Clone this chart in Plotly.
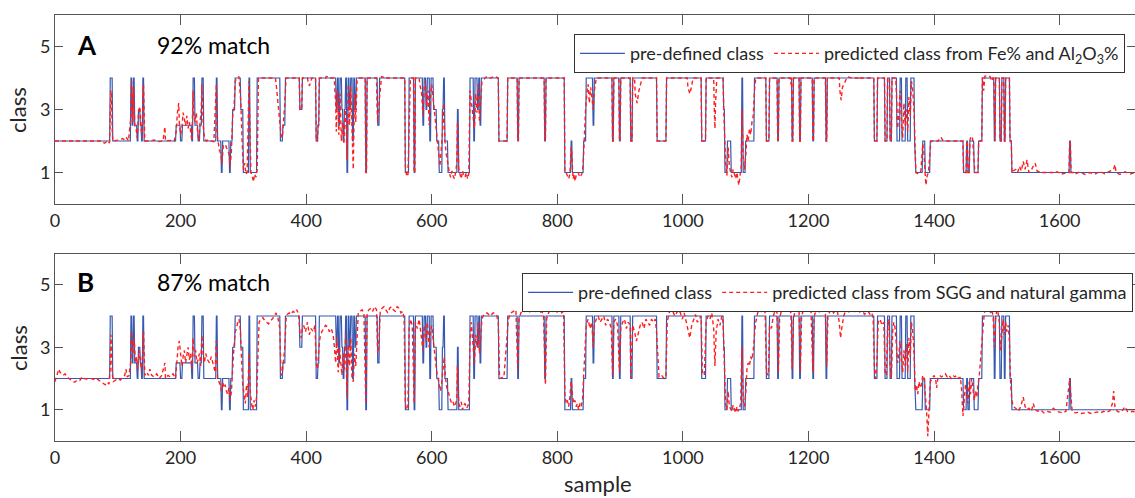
import numpy as np
import plotly.graph_objects as go

# ---------------- data ----------------
n_samples = 1721  # samples 0..1720

# pre-defined class (same in both panels), run-length: start sample -> class
blue_start = [0, 88, 92, 121, 123, 125, 127, 131, 133, 136, 138, 140, 142, 193, 200, 203, 218, 220, 223, 228,
              231, 234, 237, 257, 259, 265, 267, 278, 280, 283, 287, 296, 300, 309, 311, 322, 359, 363, 367, 390,
              394, 416, 419, 421, 448, 450, 452, 454, 457, 459, 461, 463, 465, 467, 469, 471, 474, 476, 478, 480,
              495, 497, 514, 517, 558, 564, 572, 574, 586, 588, 591, 593, 597, 599, 603, 608, 612, 617, 619, 621,
              626, 641, 643, 661, 667, 669, 673, 675, 677, 679, 707, 721, 737, 739, 780, 782, 812, 822, 824, 842,
              846, 857, 859, 888, 890, 899, 901, 917, 920, 959, 974, 1030, 1037, 1065, 1067, 1071, 1077, 1094, 1096, 1100,
              1114, 1133, 1138, 1151, 1153, 1174, 1176, 1186, 1188, 1207, 1209, 1228, 1230, 1305, 1310, 1322, 1326, 1330, 1333, 1341,
              1346, 1349, 1355, 1358, 1363, 1369, 1370, 1382, 1386, 1394, 1447, 1452, 1454, 1457, 1464, 1471, 1477, 1496, 1498, 1505,
              1508, 1512, 1514, 1521, 1524, 1616, 1618]
blue_class = [2, 4, 2, 4, 2.5, 4, 2.5, 2, 3, 2.5, 2, 4, 2, 2.5, 2, 2.5, 2, 4, 2.5, 2,
              2.5, 4, 2, 4, 2, 1, 2, 1, 2, 3, 4, 3, 1, 4, 1, 4, 2, 2.5, 4, 3,
              4, 2, 2.5, 4, 3, 4, 2.5, 4, 3, 2, 3, 4, 1, 4, 3, 4, 2, 4, 3, 4,
              1, 4, 2.5, 4, 1, 4, 1, 4, 2.5, 4, 3, 4, 2, 4, 3, 2, 1, 3, 4, 2,
              1, 3, 1, 4, 2, 4, 3, 4, 2.5, 4, 2, 4, 2, 4, 2, 4, 1, 2, 1, 2,
              4, 2.5, 4, 2, 4, 2, 4, 2, 4, 2, 4, 2, 4, 3, 1, 2, 1, 4, 1, 2,
              4, 2, 4, 2, 4, 2, 4, 2, 4, 2, 4, 2, 4, 2, 4, 2, 4, 2, 4, 2,
              4, 2, 4, 2, 4, 2, 1, 2, 1, 2, 1, 2, 1, 2, 1, 2, 4, 2, 4, 2,
              4, 2, 4, 2, 1, 2, 1]

# predicted class (A: from Fe% and Al2O3%) where it departs from the pre-defined class
red_a_points = [
    (76, 1.97), (79, 1.93), (82, 1.98), (85, 1.92), (87, 1.97), (88, 2.6), (89, 3.6), (90, 3.5), (91, 2.4), (92, 2.0),
    (100, 2.03), (104, 2.05), (108, 2.08), (111, 2.02), (114, 2.1), (117, 2.0),
    (121, 2.8), (122, 3.9), (124, 2.6), (125, 3.7), (127, 2.5), (129, 2.4), (131, 2.1), (133, 2.9), (135, 3.1),
    (137, 2.4), (139, 2.1), (140, 3.5), (141, 3.8), (143, 2.0),
    (150, 2.0), (158, 2.03), (165, 1.98), (172, 2.0), (175, 2.45), (176, 2.0), (184, 2.02), (190, 2.0),
    (193, 2.3), (195, 2.9), (197, 3.2), (198, 2.6), (200, 2.2), (202, 2.4), (204, 2.9), (206, 2.7), (208, 2.5),
    (210, 2.8), (212, 2.4), (214, 2.6), (216, 2.2), (218, 2.0),
    (220, 3.6), (221, 2.8), (223, 2.6), (225, 2.9), (227, 2.3), (229, 2.0), (231, 2.6), (233, 3.0), (234, 3.8),
    (236, 2.5), (238, 2.1), (241, 2.0), (245, 2.05), (249, 2.0), (253, 1.98),
    (257, 3.8), (258, 2.2), (260, 1.9), (262, 1.7), (264, 1.6), (266, 1.3), (268, 1.85), (271, 1.9), (274, 1.75),
    (277, 1.6), (279, 1.2), (281, 1.7), (283, 2.8), (285, 3.0), (287, 3.9), (290, 4.0), (293, 4.05), (296, 3.2), (298, 2.0),
    (300, 1.1), (302, 1.3), (304, 0.95), (306, 1.0), (308, 2.5), (309, 3.9), (310, 2.8), (312, 1.0), (314, 0.9),
    (316, 0.7), (318, 0.95), (320, 0.85), (322, 1.1), (323, 3.9),
    (352, 3.85),
    (360, 2.2), (362, 2.1), (364, 2.6), (366, 3.2), (368, 4.0),
    (403, 3.9), (405, 3.75), (407, 3.85), (432, 4.05), (435, 4.04),
    (445, 3.9), (447, 3.2), (448, 2.3), (450, 3.6), (452, 2.2), (454, 3.5), (456, 2.0), (458, 2.6), (460, 1.9),
    (462, 3.0), (464, 2.4), (465, 1.4), (467, 3.8), (469, 2.5), (471, 3.7), (473, 2.0), (475, 1.1), (477, 3.5),
    (479, 2.6), (481, 3.9),
    (513, 3.0), (514, 2.6), (516, 3.2), (520, 4.04), (524, 4.02), (528, 4.05),
    (558, 1.2), (560, 0.9), (562, 0.88), (564, 3.0),
    (581, 3.8), (584, 3.5), (586, 2.8), (588, 3.7), (590, 3.9), (592, 3.1), (594, 3.6), (596, 2.5), (598, 3.4), (600, 3.8),
    (603, 3.2), (605, 2.8), (607, 2.3), (609, 1.9), (611, 1.5), (613, 1.2), (615, 1.7), (617, 2.2), (619, 3.2),
    (621, 2.0), (623, 1.6), (625, 1.3),
    (628, 1.0), (630, 0.85), (632, 1.05), (634, 0.9), (636, 0.8), (638, 1.0), (640, 1.3), (641, 2.6), (643, 1.1),
    (645, 0.95), (647, 0.8), (649, 1.05), (651, 0.9), (653, 0.85), (655, 1.0), (657, 0.8), (659, 0.95), (661, 3.6),
    (668, 2.4), (670, 3.5), (672, 2.9), (674, 3.8), (676, 2.6), (678, 3.3), (680, 3.9),
    (688, 4.05), (694, 4.0), (700, 4.06), (705, 4.02),
    (814, 1.0), (816, 0.9), (818, 0.8), (820, 0.95), (822, 1.8), (823, 1.6), (825, 0.8), (827, 0.95), (828, 0.72),
    (830, 0.9), (833, 1.0), (836, 0.85), (839, 0.95), (841, 1.2),
    (843, 2.2), (845, 3.0), (847, 3.5), (849, 3.8), (851, 3.2), (853, 3.7), (855, 3.4), (857, 3.0), (859, 3.6), (861, 3.9),
    (924, 3.5), (927, 3.2), (930, 3.6), (933, 3.85),
    (1008, 3.7), (1011, 3.5), (1014, 3.75), (1050, 3.0), (1051, 2.4), (1052, 3.2),
    (1066, 2.5), (1068, 1.3), (1070, 0.9), (1072, 1.8), (1074, 1.2), (1076, 1.0), (1078, 0.85), (1080, 1.1),
    (1082, 0.9), (1084, 0.8), (1086, 1.0), (1088, 0.75), (1089, 0.6), (1091, 0.9), (1093, 1.2), (1094, 3.0),
    (1096, 1.5), (1098, 1.1), (1100, 1.5), (1102, 2.2), (1104, 2.0), (1106, 2.4), (1108, 2.2), (1110, 2.6),
    (1112, 2.8), (1114, 3.6),
    (1172, 3.8), (1250, 3.6), (1252, 3.3), (1254, 3.7),
    (1262, 4.04), (1270, 4.0), (1280, 4.05), (1290, 4.02),
    (1340, 3.5), (1342, 2.4), (1344, 2.9), (1346, 3.6), (1348, 2.6), (1350, 2.1), (1352, 3.2), (1354, 2.5),
    (1356, 3.0), (1358, 2.3), (1360, 3.4), (1362, 2.8), (1364, 3.9), (1366, 3.6), (1368, 3.0),
    (1371, 1.0), (1375, 0.95), (1379, 1.05), (1382, 1.9), (1384, 1.6), (1386, 0.9), (1387, 0.6), (1389, 0.9),
    (1391, 1.0), (1393, 1.5),
    (1408, 2.05), (1411, 2.12), (1414, 2.02), (1458, 2.1), (1461, 2.15), (1464, 1.2),
    (1479, 3.6), (1481, 4.06), (1485, 4.07), (1489, 4.05), (1492, 3.9),
    (1526, 1.05), (1530, 1.1), (1533, 1.0), (1536, 1.2), (1539, 1.05), (1542, 1.35), (1545, 1.1), (1548, 1.4),
    (1551, 1.0), (1554, 1.05), (1558, 1.2), (1561, 1.3), (1564, 1.05), (1568, 1.0),
    (1590, 0.96), (1596, 1.02), (1603, 0.95), (1610, 1.0), (1625, 0.95), (1632, 1.02), (1640, 0.94), (1648, 1.0),
    (1656, 0.95), (1664, 1.03), (1672, 0.96), (1680, 1.05), (1686, 1.1), (1688, 1.25), (1690, 1.0), (1696, 0.94),
    (1704, 1.02), (1712, 0.95), (1718, 1.0),
]

# predicted class (B: from SGG and natural gamma)
red_b_points = [
    (0, 1.9), (2, 2.05), (4, 2.2), (6, 2.3), (8, 2.2), (10, 2.15), (13, 2.1), (16, 2.15), (19, 2.05), (22, 2.0),
    (25, 1.95), (28, 1.9), (31, 1.88), (34, 1.92), (37, 1.9), (40, 1.95), (43, 2.05), (46, 2.0), (50, 1.98),
    (54, 2.02), (58, 2.0), (62, 1.97), (66, 2.0), (70, 1.95), (74, 1.9), (77, 1.85), (80, 1.8), (83, 1.88),
    (86, 1.82), (88, 2.4), (89, 3.4), (90, 3.0), (91, 2.2), (93, 1.9), (96, 1.95), (100, 2.0), (104, 1.95),
    (108, 2.05), (111, 2.1), (113, 2.3), (115, 2.05), (118, 2.1), (121, 2.6), (122, 3.5), (124, 2.8), (126, 3.3),
    (128, 2.5), (130, 2.7), (132, 2.3), (134, 2.9), (136, 2.4), (138, 2.2), (140, 3.0), (141, 3.5), (143, 2.1),
    (146, 2.2), (149, 2.1), (151, 2.3), (154, 2.1), (158, 2.05), (162, 2.15), (166, 2.0), (170, 2.1), (175, 2.5),
    (176, 2.0), (180, 2.1), (184, 2.05), (188, 2.15), (192, 2.0), (194, 2.6), (196, 3.0), (198, 3.2), (200, 2.8),
    (202, 2.4), (204, 2.7), (206, 2.9), (208, 2.5), (210, 2.7), (212, 3.0), (214, 2.6), (216, 2.8), (218, 2.3),
    (220, 3.3), (222, 2.7), (224, 2.9), (226, 2.5), (228, 2.6), (230, 2.8), (232, 2.4), (234, 3.4), (236, 2.7),
    (238, 2.5), (240, 2.8), (243, 2.6), (246, 2.5), (249, 2.7), (252, 2.4), (255, 2.2), (257, 3.2), (259, 2.0),
    (261, 1.9), (263, 1.8), (265, 1.6), (267, 1.9), (269, 1.7), (271, 1.8), (273, 1.6), (275, 1.5), (277, 1.7),
    (279, 1.3), (281, 1.6), (283, 2.5), (285, 3.0), (287, 3.5), (289, 3.6), (291, 3.8), (293, 3.9), (295, 3.6),
    (297, 2.8), (299, 1.8), (301, 1.5), (303, 1.2), (305, 1.8), (307, 1.4), (309, 2.8), (311, 1.6), (313, 1.2),
    (315, 1.0), (317, 1.3), (319, 1.1), (321, 1.4), (323, 3.0), (325, 3.8), (328, 3.9), (331, 3.95), (334, 3.85),
    (337, 3.8), (340, 3.75), (343, 3.85), (346, 3.9), (349, 4.0), (352, 4.1), (355, 3.95), (358, 3.6), (360, 2.1),
    (362, 2.2), (364, 2.6), (366, 3.0), (368, 3.9), (370, 4.05), (373, 4.1), (376, 4.05), (379, 4.15), (382, 4.1),
    (385, 4.2), (388, 4.05), (390, 3.5), (392, 3.3), (394, 3.6), (396, 3.7), (399, 3.5), (402, 3.8), (405, 3.4),
    (408, 3.6), (411, 3.5), (414, 3.7), (416, 2.5), (418, 2.3), (420, 2.9), (422, 3.3), (425, 3.5), (428, 3.6),
    (431, 3.7), (434, 3.65), (437, 3.5), (440, 3.6), (443, 3.4), (445, 3.0), (447, 2.5), (449, 3.3), (451, 2.2),
    (453, 3.0), (455, 2.6), (457, 2.1), (459, 2.8), (461, 2.3), (463, 3.4), (465, 1.4), (467, 3.1), (469, 2.4),
    (471, 3.3), (473, 2.0), (475, 1.9), (477, 2.8), (479, 2.4), (481, 3.5), (483, 4.1), (486, 4.15), (489, 4.2),
    (492, 4.1), (495, 1.2), (497, 4.1), (500, 4.2), (503, 4.25), (506, 4.15), (509, 4.3), (512, 4.2), (514, 2.8),
    (516, 3.2), (518, 4.15), (521, 4.25), (524, 4.3), (527, 4.2), (530, 4.1), (533, 4.25), (536, 4.3), (539, 4.2),
    (542, 4.15), (545, 4.3), (548, 4.25), (551, 4.1), (554, 4.15), (556, 3.9), (558, 1.2), (560, 1.0), (562, 1.05),
    (564, 3.6), (566, 3.9), (569, 3.7), (572, 1.2), (574, 3.8), (577, 3.6), (580, 3.9), (583, 3.4), (586, 2.9),
    (588, 3.7), (591, 3.2), (593, 3.8), (596, 3.0), (598, 3.5), (600, 3.7), (602, 3.3), (604, 2.9), (606, 2.6),
    (608, 2.2), (610, 2.0), (612, 1.8), (614, 1.6), (616, 1.9), (618, 2.3), (620, 2.7), (622, 2.0), (624, 1.7),
    (626, 1.6), (628, 1.4), (630, 1.3), (632, 1.2), (634, 1.25), (636, 1.1), (638, 1.2), (640, 1.3), (641, 2.4),
    (643, 1.2), (645, 1.1), (647, 1.25), (649, 1.0), (651, 1.15), (653, 1.2), (655, 1.05), (657, 1.1), (659, 1.2),
    (661, 3.2), (663, 3.8), (668, 2.5), (670, 3.4), (672, 3.0), (674, 3.8), (676, 2.8), (678, 3.5), (680, 3.9),
    (683, 4.05), (688, 4.1), (693, 4.0), (698, 4.1), (703, 4.05), (706, 3.8), (708, 2.0), (715, 2.05), (722, 3.9),
    (726, 4.1), (730, 4.15), (734, 4.2), (737, 2.3), (739, 3.9), (742, 4.1), (745, 4.2), (748, 4.15), (751, 4.25),
    (754, 4.2), (757, 4.1), (760, 4.2), (763, 4.25), (766, 4.15), (769, 4.2), (772, 4.1), (775, 4.15), (778, 4.05),
    (780, 2.0), (781, 1.8), (783, 3.9), (786, 4.1), (789, 4.2), (792, 4.15), (795, 4.2), (798, 4.1), (801, 4.15),
    (804, 4.2), (807, 4.1), (810, 4.15), (812, 1.5), (814, 1.2), (816, 1.3), (818, 1.1), (820, 1.4), (822, 1.9),
    (824, 1.5), (826, 1.2), (828, 1.3), (830, 1.1), (832, 1.2), (834, 1.0), (836, 1.2), (838, 1.1), (840, 1.3),
    (842, 2.3), (844, 3.2), (846, 3.7), (849, 3.9), (852, 3.6), (855, 3.8), (857, 3.0), (859, 3.7), (862, 3.9),
    (865, 4.0), (868, 3.8), (871, 3.9), (874, 4.0), (877, 3.7), (880, 3.9), (883, 3.8), (886, 3.6), (888, 2.1),
    (890, 3.8), (893, 3.9), (896, 3.7), (899, 2.2), (901, 3.6), (904, 3.8), (907, 3.9), (910, 3.6), (913, 3.8),
    (916, 3.7), (917, 2.0), (920, 3.7), (923, 3.5), (926, 3.2), (929, 3.5), (932, 3.7), (935, 3.8), (938, 3.6),
    (941, 3.9), (944, 3.8), (947, 3.7), (950, 3.9), (953, 3.8), (956, 3.9), (958, 3.5), (962, 2.05), (966, 2.1),
    (970, 2.0), (973, 2.1), (975, 3.8), (978, 4.1), (981, 4.2), (984, 4.15), (987, 4.0), (990, 4.1), (993, 4.2),
    (996, 4.1), (999, 3.9), (1002, 4.1), (1005, 3.8), (1008, 3.5), (1011, 3.3), (1014, 3.7), (1017, 3.9),
    (1020, 4.05), (1023, 3.8), (1026, 3.9), (1029, 4.0), (1031, 2.2), (1034, 2.1), (1037, 3.8), (1040, 4.0),
    (1043, 3.9), (1046, 4.1), (1049, 3.6), (1051, 2.4), (1053, 3.5), (1056, 3.9), (1059, 3.7), (1062, 4.0),
    (1064, 3.8), (1066, 2.4), (1068, 1.2), (1070, 1.0), (1072, 1.6), (1074, 1.1), (1076, 1.0), (1078, 0.95),
    (1080, 1.15), (1082, 1.0), (1084, 0.9), (1086, 1.1), (1088, 0.95), (1090, 1.05), (1092, 1.2), (1094, 3.0),
    (1096, 1.3), (1098, 1.1), (1100, 1.5), (1102, 2.3), (1104, 2.5), (1106, 2.4), (1108, 2.7), (1110, 2.6),
    (1112, 2.9), (1114, 3.4), (1116, 3.8), (1119, 4.1), (1122, 4.2), (1125, 4.15), (1128, 4.25), (1131, 4.1),
    (1133, 2.2), (1136, 2.1), (1138, 3.7), (1141, 3.6), (1144, 4.0), (1147, 4.2), (1150, 4.1), (1152, 2.2),
    (1154, 3.9), (1157, 4.2), (1160, 4.25), (1163, 4.15), (1166, 4.3), (1169, 4.2), (1172, 4.1), (1174, 2.3),
    (1176, 3.9), (1179, 4.2), (1182, 4.15), (1185, 4.2), (1187, 2.2), (1189, 4.0), (1192, 4.2), (1195, 4.25),
    (1198, 4.2), (1201, 4.15), (1204, 4.2), (1207, 2.2), (1209, 4.0), (1212, 4.15), (1215, 4.2), (1218, 4.1),
    (1221, 4.15), (1224, 4.2), (1227, 4.1), (1229, 2.4), (1231, 4.0), (1234, 4.15), (1237, 4.2), (1240, 4.1),
    (1243, 4.2), (1246, 4.15), (1249, 3.8), (1251, 3.3), (1253, 3.6), (1256, 4.0), (1259, 4.15), (1262, 4.2),
    (1265, 4.1), (1268, 4.2), (1271, 4.25), (1274, 4.15), (1277, 4.2), (1280, 4.1), (1283, 4.15), (1286, 4.2),
    (1289, 4.05), (1292, 4.1), (1295, 4.15), (1298, 4.05), (1301, 4.1), (1303, 3.9), (1305, 2.3), (1307, 2.0),
    (1309, 2.6), (1311, 3.8), (1314, 3.9), (1317, 3.7), (1320, 3.8), (1322, 2.2), (1324, 2.1), (1326, 3.6),
    (1328, 3.9), (1330, 2.4), (1332, 2.0), (1334, 3.5), (1336, 3.8), (1338, 3.6), (1340, 3.0), (1342, 2.5),
    (1344, 2.8), (1346, 3.2), (1348, 2.6), (1350, 2.2), (1352, 2.9), (1354, 2.4), (1356, 3.1), (1358, 2.2),
    (1360, 3.3), (1362, 2.7), (1364, 3.8), (1366, 3.5), (1368, 2.9), (1370, 1.6), (1372, 1.8), (1374, 1.5),
    (1376, 1.9), (1378, 1.7), (1380, 1.8), (1382, 2.1), (1384, 2.0), (1386, 1.6), (1388, 1.0), (1390, 0.15),
    (1392, 1.2), (1394, 1.9), (1397, 2.0), (1400, 2.1), (1403, 1.9), (1404, 1.7), (1406, 2.0), (1409, 2.1),
    (1412, 2.05), (1415, 2.1), (1418, 2.15), (1421, 2.05), (1424, 2.1), (1427, 2.0), (1430, 2.1), (1433, 2.05),
    (1436, 2.1), (1439, 2.0), (1442, 2.05), (1444, 1.6), (1446, 0.8), (1448, 1.3), (1450, 1.8), (1452, 1.6),
    (1454, 1.2), (1456, 1.9), (1458, 1.5), (1460, 2.0), (1462, 1.7), (1464, 1.3), (1466, 1.6), (1468, 1.4),
    (1470, 1.8), (1472, 2.1), (1474, 2.6), (1476, 3.2), (1478, 3.8), (1480, 4.1), (1482, 4.2), (1484, 4.3),
    (1486, 4.2), (1488, 4.25), (1490, 4.1), (1492, 4.2), (1494, 4.0), (1496, 3.0), (1498, 3.9), (1500, 4.2),
    (1502, 4.1), (1504, 3.8), (1506, 2.9), (1508, 3.6), (1510, 3.9), (1512, 3.4), (1514, 3.8), (1516, 3.5),
    (1518, 3.7), (1520, 3.2), (1522, 1.8), (1524, 1.3), (1526, 1.1), (1530, 1.05), (1534, 0.95), (1538, 1.1),
    (1542, 1.4), (1545, 1.1), (1548, 1.0), (1551, 1.05), (1555, 0.95), (1558, 1.2), (1561, 1.0), (1565, 0.95),
    (1570, 1.0), (1575, 0.9), (1580, 0.95), (1585, 0.92), (1590, 1.05), (1595, 0.95), (1600, 0.92), (1605, 0.9),
    (1610, 0.95), (1614, 1.8), (1616, 2.0), (1618, 1.4), (1620, 0.95), (1625, 0.9), (1630, 0.92), (1635, 0.88),
    (1640, 0.9), (1645, 0.92), (1650, 0.88), (1655, 0.9), (1660, 0.93), (1665, 0.9), (1670, 0.95), (1675, 0.92),
    (1680, 0.97), (1684, 1.2), (1686, 1.6), (1688, 1.1), (1692, 0.95), (1696, 0.92), (1700, 0.98), (1704, 1.1),
    (1708, 0.95), (1712, 0.92), (1716, 0.95), (1720, 0.93),
]

x_ticks = [0, 200, 400, 600, 800, 1000, 1200, 1400, 1600]
y_ticks = [1, 3, 5]
panel_labels = ["A", "B"]
match_texts = ["92% match", "87% match"]
legend_blue = "pre-defined class"
legend_red = ["predicted class from Fe% and Al<sub>2</sub>O<sub>3</sub>%",
              "predicted class from SGG and natural gamma"]

# ---------------- build series ----------------
samples = np.arange(n_samples)
blue = np.array(blue_class, dtype=float)[np.searchsorted(blue_start, samples, side="right") - 1]


def build_red(points, gap=8):
    pts = sorted(points)
    clusters, cur = [], [pts[0]]
    for p in pts[1:]:
        if p[0] - cur[-1][0] <= gap:
            cur.append(p)
        else:
            clusters.append(cur)
            cur = [p]
    clusters.append(cur)
    keep = np.ones(n_samples, bool)
    for c in clusters:
        keep[c[0][0]:c[-1][0] + 1] = False
    xs = list(samples[keep])
    ys = list(blue[keep])
    for c in clusters:
        for x, y in c:
            xs.append(x)
            ys.append(y)
    xs = np.array(xs)
    ys = np.array(ys)
    order = np.argsort(xs, kind="stable")
    return xs[order], ys[order]


red_a_x, red_a_y = build_red(red_a_points)
red_b_x, red_b_y = build_red(red_b_points)

# ---------------- figure ----------------
FONT = "Lato, 'Open Sans', sans-serif"
BLUE = "#3558b0"
RED = "#ff1f1f"
TXT = "#262626"

fig = go.Figure()
fig.add_trace(go.Scatter(x=samples, y=blue, mode="lines", name=legend_blue,
                         line=dict(color=BLUE, width=1.2), xaxis="x", yaxis="y", legend="legend"))
fig.add_trace(go.Scatter(x=red_a_x, y=red_a_y, mode="lines", name=legend_red[0],
                         line=dict(color=RED, width=1.4, dash="4px,3px"), xaxis="x", yaxis="y", legend="legend"))
fig.add_trace(go.Scatter(x=samples, y=blue, mode="lines", name=legend_blue,
                         line=dict(color=BLUE, width=1.2), xaxis="x2", yaxis="y2", legend="legend2"))
fig.add_trace(go.Scatter(x=red_b_x, y=red_b_y, mode="lines", name=legend_red[1],
                         line=dict(color=RED, width=1.4, dash="4px,3px"), xaxis="x2", yaxis="y2", legend="legend2"))

ax_common = dict(showline=True, linecolor="#555555", linewidth=1, mirror="ticks", ticks="inside",
                 tickcolor="#555555", showgrid=False, zeroline=False,
                 tickfont=dict(family=FONT, size=18, color=TXT))
xax = dict(ax_common, range=[0, 1720], tickvals=x_ticks, ticklen=10)
yax = dict(ax_common, range=[0, 6], tickvals=y_ticks, ticklen=8)

legend_common = dict(orientation="h", bgcolor="white", bordercolor="#333333", borderwidth=1,
                     font=dict(family=FONT, size=18, color=TXT), itemwidth=45,
                     xanchor="left", yanchor="top", tracegroupgap=0, itemclick=False)

fig.update_layout(
    width=1135, height=498,
    margin=dict(l=55, r=0, t=15, b=57),
    paper_bgcolor="white", plot_bgcolor="white",
    showlegend=True,
    xaxis=dict(xax, domain=[0, 1], anchor="y"),
    yaxis=dict(yax, domain=[0.5563, 1], anchor="x"),
    xaxis2=dict(xax, domain=[0, 1], anchor="y2"),
    yaxis2=dict(yax, domain=[0, 0.4401], anchor="x2"),
    legend=dict(legend_common, x=0.4805, y=0.955),
    legend2=dict(legend_common, x=0.4325, y=0.394),
)

annots = [
    dict(text="<b>" + panel_labels[0] + "</b>", x=0.0185, y=0.9296, xanchor="left", yanchor="middle",
         font=dict(family=FONT, size=26, color="black")),
    dict(text=match_texts[0], x=0.0926, y=0.9296, xanchor="left", yanchor="middle",
         font=dict(family=FONT, size=23, color="black")),
    dict(text="<b>" + panel_labels[1] + "</b>", x=0.0185, y=0.3732, xanchor="left", yanchor="middle",
         font=dict(family=FONT, size=26, color="black")),
    dict(text=match_texts[1], x=0.0926, y=0.3732, xanchor="left", yanchor="middle",
         font=dict(family=FONT, size=23, color="black")),
    dict(text="class", x=-0.0343, y=0.777, textangle=-90, xanchor="center", yanchor="middle",
         font=dict(family=FONT, size=22, color=TXT)),
    dict(text="class", x=-0.0343, y=0.2183, textangle=-90, xanchor="center", yanchor="middle",
         font=dict(family=FONT, size=22, color=TXT)),
    dict(text="sample", x=0.503, y=-0.1, xanchor="center", yanchor="middle",
         font=dict(family=FONT, size=22, color=TXT)),
]
for a in annots:
    a.update(xref="paper", yref="paper", showarrow=False)
fig.update_layout(annotations=annots)

fig.write_html("out.html")
